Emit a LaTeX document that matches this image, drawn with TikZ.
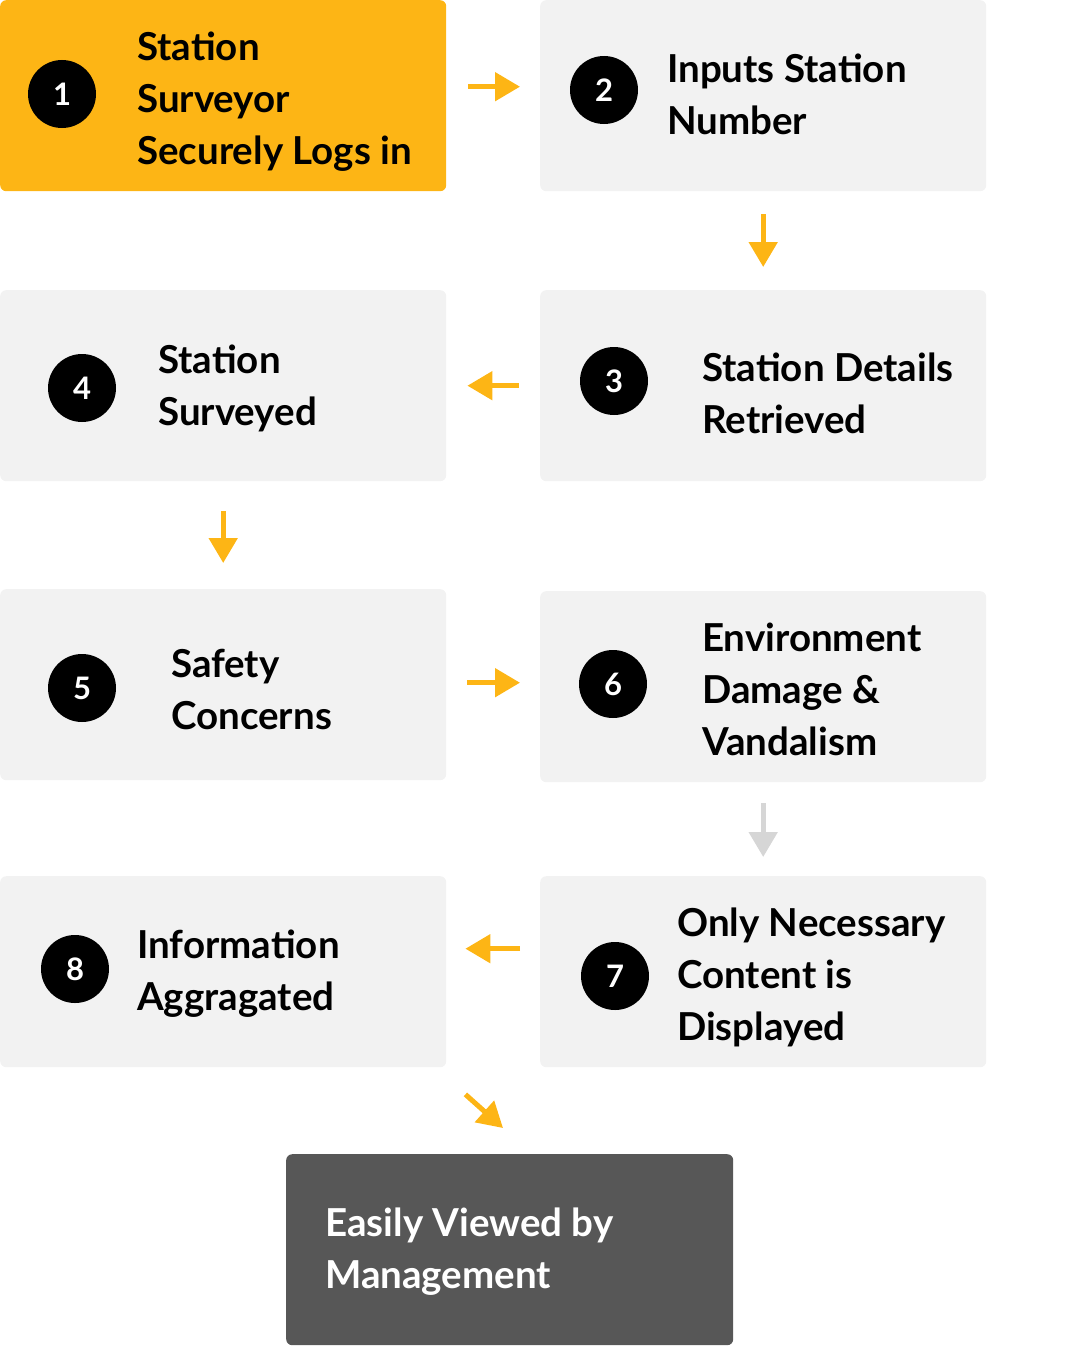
\documentclass[tikz,border=0pt]{standalone}
\usepackage{fontspec}
\setmainfont{Lato}
\usetikzlibrary{arrows.meta}

\definecolor{stepgold}{HTML}{FDB515}
\definecolor{cardgray}{HTML}{F2F2F2}
\definecolor{endgray}{HTML}{575757}
\definecolor{waitgray}{HTML}{D6D6D6}

\begin{document}
\begin{tikzpicture}[x=1pt,y=-1pt]
	\tikzstyle{card} = [rectangle, rounded corners=6pt, fill=cardgray, minimum width=446pt, minimum height=191pt, anchor=north west, inner sep=0pt];
	\tikzstyle{badge} = [circle, fill=black, minimum size=68pt, inner sep=0pt, text=white, font={\fontsize{31}{31}\selectfont\bfseries}];
	\tikzstyle{label} = [anchor=west, align=left, inner sep=0pt, font={\fontsize{38.5}{52}\selectfont\bfseries}];
	\tikzstyle{flow} = [-{Triangle[length=25pt,width=28pt]}, line width=5pt, draw=stepgold];

	\useasboundingbox (0,0) rectangle (1087,1346);

	% steps 1 to 8
	\foreach \i/\c/\x/\y/\cx/\cy/\tx/\ty/\txt in {
		1/stepgold/0/0/62/94/137/102/{Station\\Surveyor\\Securely Logs in},
		2/cardgray/540/0/604/90/667/94/{Inputs Station\\Number},
		3/cardgray/540/290/614/381/702/393/{Station Details\\Retrieved},
		4/cardgray/0/290/82/388/158/388/{Station\\Surveyed},
		5/cardgray/0/589/82/688/171/689/{Safety\\Concerns},
		6/cardgray/540/591/613/684/702/689/{Environment\\Damage \&\\Vandalism},
		7/cardgray/540/876/615/976/677/977/{Only Necessary\\Content is\\Displayed},
		8/cardgray/0/876/75/969/137/974/{Information\\Aggragated}} {
		\node[card, fill=\c] (b\i) at (\x,\y) {};
		\node[badge] (n\i) at (\cx,\cy) {\i};
		\node[label] (t\i) at (\tx,\ty) {\txt};
	}

	% final step
	\node[card, fill=endgray, minimum width=447pt] (b9) at (286,1154) {};
	\node[label, text=white] (t9) at (325,1252) {Easily Viewed by\\Management};

	\draw[flow, shorten <=22pt, shorten >=20pt] ([yshift=9pt]b1.east) -- ([yshift=9pt]b2.west);
	\draw[flow, shorten <=23pt, shorten >=23pt] (b2.south) -- (b3.north);
	\draw[flow, shorten <=21pt, shorten >=21pt] (b3.west) -- (b4.east);
	\draw[flow, shorten <=30pt, shorten >=26pt] (b4.south) -- (b5.north);
	\draw[flow, shorten <=21pt, shorten >=20pt] ([yshift=2pt]b5.east) -- ([yshift=2pt]b5.east -| b6.west);
	\draw[flow, draw=waitgray, shorten <=21pt, shorten >=19pt] (b6.south) -- (b7.north);
	\draw[flow, shorten <=20pt, shorten >=19pt] ([yshift=23pt]b7.west) -- ([yshift=23pt]b7.west -| b8.east);
	\draw[flow] ([shift={(19,27)}]b8.south east) -- ([shift={(217,-26)}]b9.north west);
\end{tikzpicture}
\end{document}
